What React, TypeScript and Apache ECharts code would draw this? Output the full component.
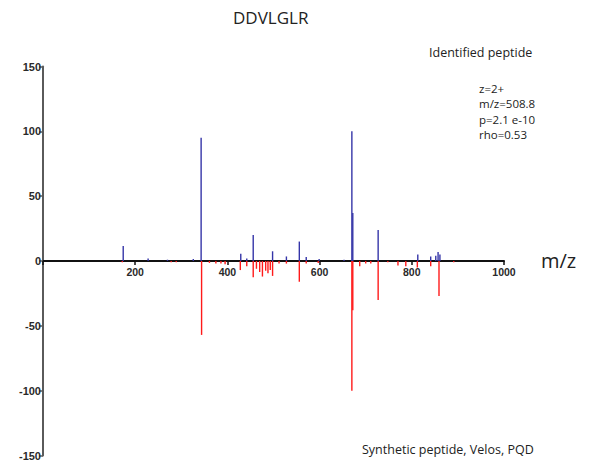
import React, { useEffect, useRef } from "react";
import * as echarts from "echarts";

// Experimental spectrum (blue, upwards)
const blueMz = [174, 228, 270, 326, 343, 429, 442, 456, 498, 528, 556, 571, 599, 653, 670, 672, 727, 813, 841, 852, 857, 861];
const blueInt = [11.5, 2, 1, 1.5, 95, 5.5, 2, 20, 7.5, 3.5, 15, 3, 1.5, 1, 100, 37, 24, 5, 3.5, 4, 7, 5];

// Synthetic peptide spectrum (red, downwards)
const redMz = [172, 278, 289, 344, 361, 375, 386, 395, 428, 442, 456, 463, 470, 476, 483, 488, 493, 498, 512, 528, 556, 571, 597, 670, 672, 687, 700, 711, 727, 748, 770, 787, 812, 841, 859, 891];
const redInt = [-1, -1, -1, -57, -1.5, -2, -2, -2.5, -7, -4, -12.5, -6, -8.5, -12, -7.5, -9.5, -7, -11.5, -2, -2, -16, -2, -1.5, -100, -38, -4, -2, -2, -30, -1, -3.5, -4, -5, -4, -27, -1];

const xTicks = [0, 200, 400, 600, 800, 1000];
const yTicks = [-150, -100, -50, 0, 50, 100, 150];

const title = "DDVLGLR";
const infoTitle = "Identified peptide";
const infoLines = ["z=2+", "m/z=508.8", "p=2.1 e-10", "rho=0.53"];
const footer = "Synthetic peptide, Velos, PQD";
const xName = "m/z";

const GRID_TOP = 66.5;
const GRID_BOTTOM = 10.5;
const H = 466;

function stickSeries(name: string, mz: number[], inten: number[], color: string) {
  return {
    name,
    type: "custom",
    data: mz.map((m, i) => [m, inten[i]]),
    z: 5,
    renderItem: (params: any, api: any) => {
      const p0 = api.coord([api.value(0), 0]);
      const p1 = api.coord([api.value(0), api.value(1)]);
      return {
        type: "line",
        shape: { x1: p0[0], y1: p0[1], x2: p1[0], y2: p1[1] },
        style: { stroke: color, lineWidth: 1.4 },
      };
    },
  };
}

export default function App() {
  const ref = useRef<HTMLDivElement>(null);
  useEffect(() => {
    document.body.style.margin = "0";
    if (!ref.current) return;
    const chart = echarts.init(ref.current, null, { renderer: "svg" });
    const font = "'Liberation Sans', Arial, sans-serif";
    const tfont = "'Open Sans', 'Noto Sans', sans-serif";
    const plotH = H - GRID_TOP - GRID_BOTTOM;
    const yMin = yTicks[0];
    const yMax = yTicks[yTicks.length - 1];
    // distance from bottom of grid to the zero line
    const zeroOffset = (plotH * (0 - yMin)) / (yMax - yMin);
    chart.setOption({
      animation: false,
      backgroundColor: "#ffffff",
      grid: { left: 43, right: 88, top: GRID_TOP, bottom: GRID_BOTTOM, containLabel: false },
      xAxis: {
        type: "value",
        min: xTicks[0],
        max: xTicks[xTicks.length - 1],
        interval: 200,
        position: "bottom",
        offset: -zeroOffset,
        axisLine: { onZero: false, lineStyle: { color: "#111", width: 2 } },
        axisTick: { show: true, length: 4, lineStyle: { color: "#111", width: 1.5 } },
        splitLine: { show: false },
        axisLabel: {
          color: "#2a2a2a",
          fontSize: 10.5,
          fontWeight: "bold",
          fontFamily: font,
          margin: 5,
          formatter: (v: number) => (v === 0 ? "" : String(v)),
        },
      },
      yAxis: {
        type: "value",
        min: yMin,
        max: yMax,
        interval: 50,
        axisLine: { show: true, onZero: false, lineStyle: { color: "#5a5a5a", width: 2 } },
        axisTick: { show: true, length: 4, lineStyle: { color: "#5a5a5a", width: 1.5 } },
        splitLine: { show: false },
        axisLabel: { color: "#2a2a2a", fontSize: 11, fontWeight: "bold", fontFamily: font, margin: 2 },
      },
      series: [
        stickSeries("experimental", blueMz, blueInt, "#3535a8"),
        stickSeries("synthetic", redMz, redInt, "#ff1a1a"),
      ],
      graphic: [
        { type: "text", left: 233, top: 9, style: { text: title, fontSize: 17, fontFamily: tfont, fill: "#222" } },
        { type: "text", left: 429, top: 46, style: { text: infoTitle, fontSize: 12.5, fontFamily: tfont, fill: "#222" } },
        {
          type: "text",
          left: 479,
          top: 81,
          style: { text: infoLines.join("\n"), fontSize: 11.5, lineHeight: 15.3, fontFamily: tfont, fill: "#222" },
        },
        { type: "text", left: 541, top: 250, style: { text: xName, fontSize: 20, fontFamily: tfont, fill: "#222" } },
        { type: "text", left: 362, top: 443, style: { text: footer, fontSize: 12.5, fontFamily: tfont, fill: "#222" } },
      ],
    });
    return () => chart.dispose();
  }, []);
  return <div ref={ref} style={{ width: 592, height: 466 }} />;
}
